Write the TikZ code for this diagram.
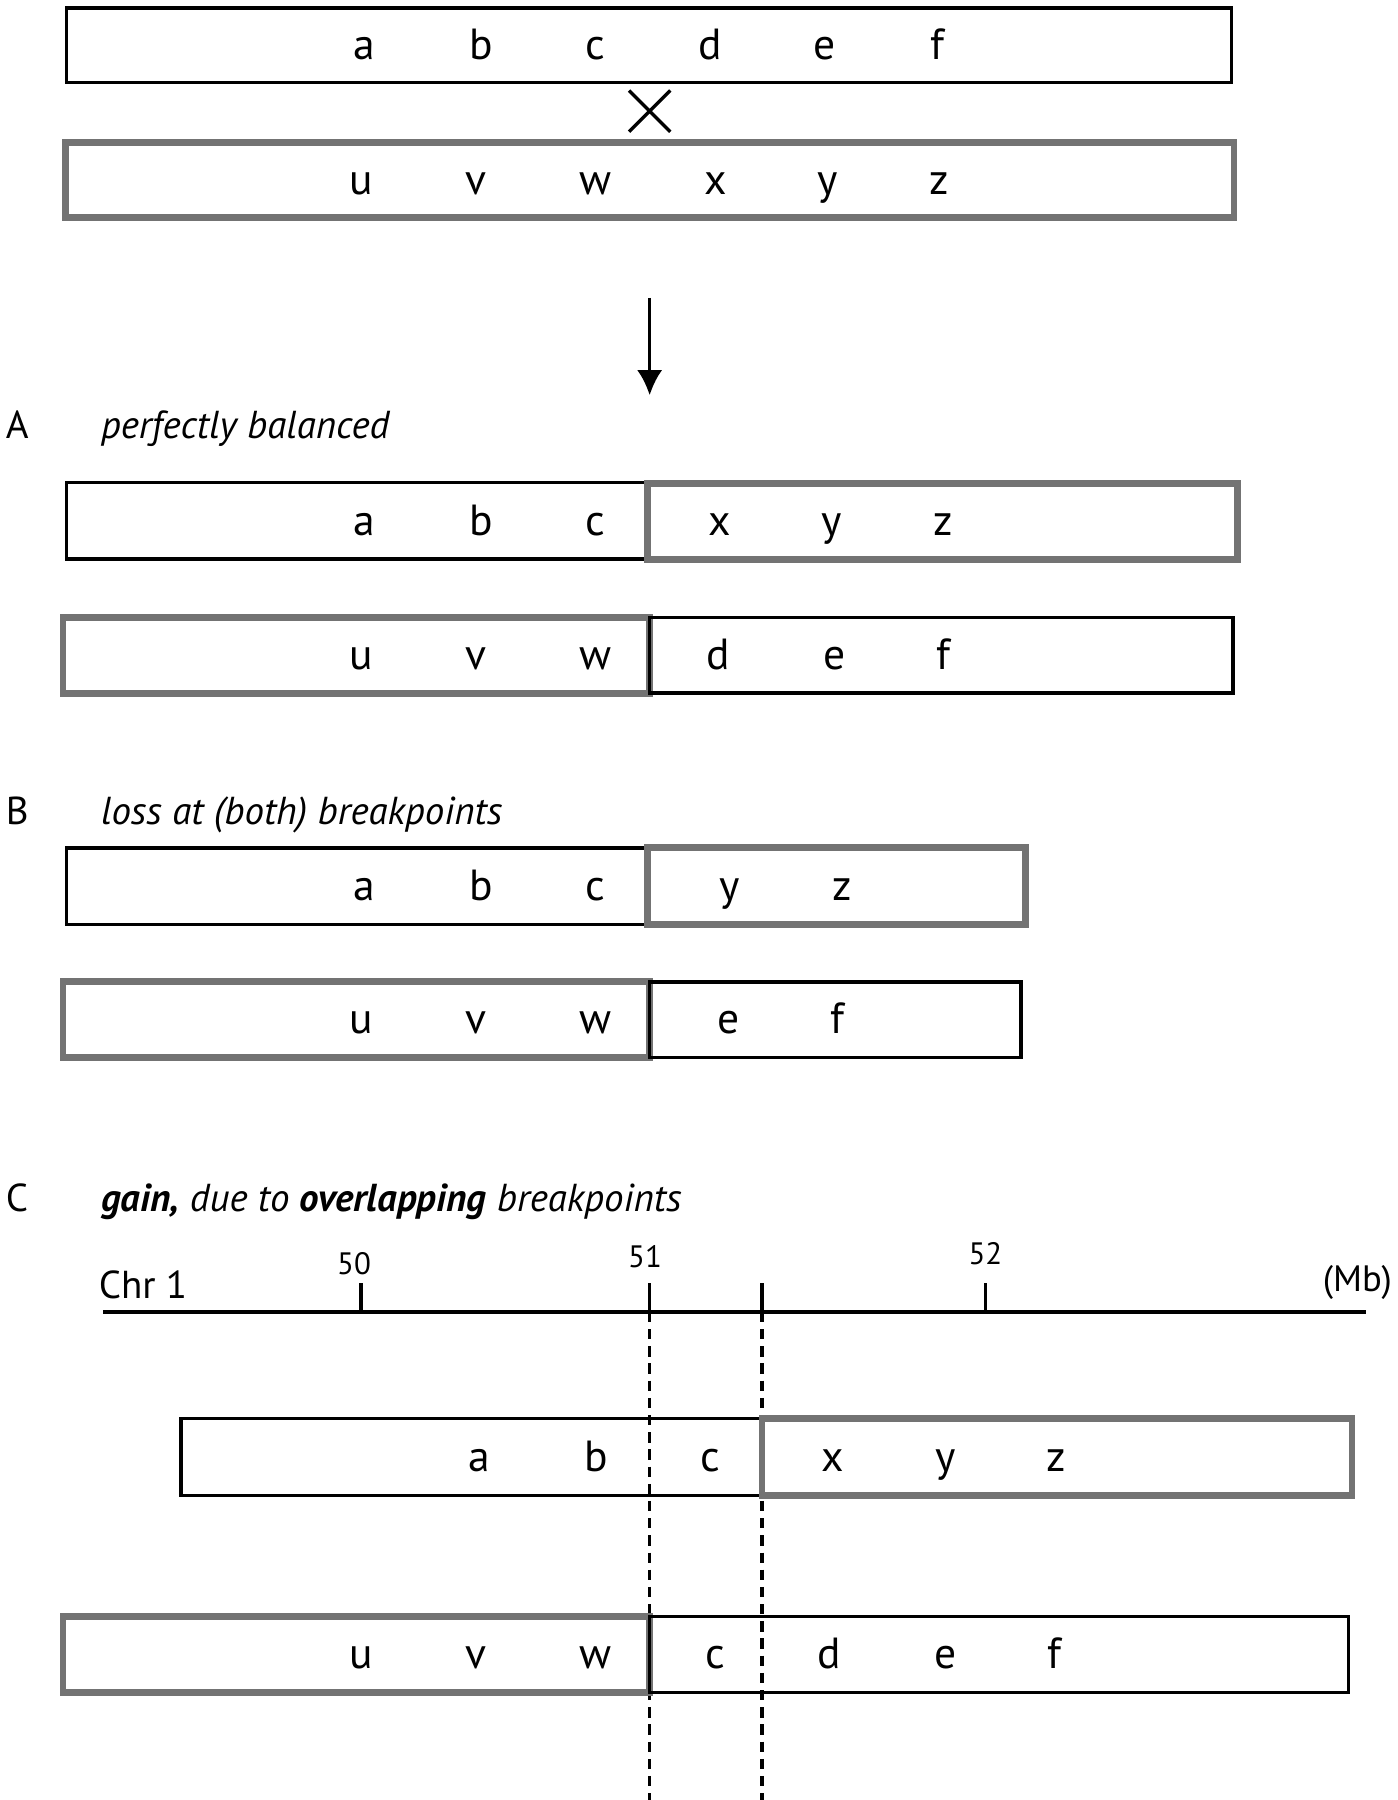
\documentclass[tikz,border=0pt]{standalone}
\usepackage{fontspec}
\usetikzlibrary{arrows.meta}
\setmainfont{PT Sans}
\begin{document}
\begin{tikzpicture}[x=1pt,y=-1pt,
  blk/.style={draw=black,line width=3pt},
  gry/.style={draw=black!55,line width=6pt},
  lt/.style={font=\fontsize{38}{40}\selectfont,inner sep=0pt,anchor=base},
  lab/.style={font=\fontsize{34}{40}\selectfont,inner sep=0pt,anchor=base west},
  sm/.style={font=\fontsize{27}{30}\selectfont,inner sep=0pt,anchor=base}]
\useasboundingbox (0,0) rectangle (1220,1571);
% top
\draw[blk] (58,7) rectangle (1075,72);
\draw[gry] (57,124) rectangle (1077,190);
\foreach \l/\x in {a/318,b/420,c/520,d/620,e/720,f/818} \node[lt] at (\x,52) {\l};
\foreach \l/\x in {u/315,v/415,w/520,x/625,y/722,z/820} \node[lt] at (\x,170) {\l};
\draw[line width=3pt] (549,79) -- (585,115) (585,79) -- (549,115);
\coordinate (as) at (567,260);
\coordinate (ae) at (567,345);
\draw[line width=3pt,-{Latex[length=22pt,width=22pt]}] (as) -- (ae);
% A
\node[lab] at (5,383) {A};
\node[lab] at (88,383) {\itshape perfectly balanced};
\draw[blk] (58,421) rectangle (565,488);
\draw[gry] (565,422) rectangle (1080,488);
\foreach \l/\x in {a/318,b/420,c/520,x/628,y/726,z/823} \node[lt] at (\x,467) {\l};
\draw[gry] (55,539) rectangle (567,605);
\draw[blk] (567,539) rectangle (1076,605);
\foreach \l/\x in {u/315,v/415,w/520,d/627,e/728,f/823} \node[lt] at (\x,584) {\l};
% B
\node[lab] at (5,720) {B};
\node[lab] at (88,720) {\itshape loss at (both) breakpoints};
\draw[blk] (58,740) rectangle (565,807);
\draw[gry] (565,740) rectangle (895,807);
\foreach \l/\x in {a/318,b/420,c/520,y/637,z/735} \node[lt] at (\x,786) {\l};
\draw[gry] (55,857) rectangle (567,923);
\draw[blk] (567,857) rectangle (891,923);
\foreach \l/\x in {u/315,v/415,w/520,e/636,f/731} \node[lt] at (\x,902) {\l};
% C
\node[lab] at (5,1057) {C};
\node[lab] at (88,1057) {\itshape\textbf{gain,} due to \textbf{overlapping} breakpoints};
\draw[line width=3pt] (90,1145) -- (1192,1145);
\node[lab] at (86,1133) {Chr 1};
\node[lab,font=\fontsize{32}{36}\selectfont,anchor=base east] at (1215,1127) {(Mb)};
\foreach \x in {315,567,665,860} \draw[line width=3pt] (\x,1145) -- (\x,1120);
\node[sm] at (309,1112) {50};
\node[sm] at (563,1106) {51};
\node[sm] at (860,1104) {52};
\draw[line width=3pt,dash pattern=on 9pt off 6pt] (567,1145) -- (567,1571) (665,1145) -- (665,1571);
\draw[blk] (158,1238) rectangle (665,1305);
\draw[gry] (665,1238) rectangle (1180,1305);
\foreach \l/\x in {a/418,b/520,c/620,x/727,y/825,z/922} \node[lt] at (\x,1284) {\l};
\draw[gry] (55,1411) rectangle (567,1477);
\draw[blk] (567,1411) rectangle (1177,1477);
\foreach \l/\x in {u/315,v/415,w/520,c/624,d/724,e/825,f/920} \node[lt] at (\x,1456) {\l};
\end{tikzpicture}
\end{document}
